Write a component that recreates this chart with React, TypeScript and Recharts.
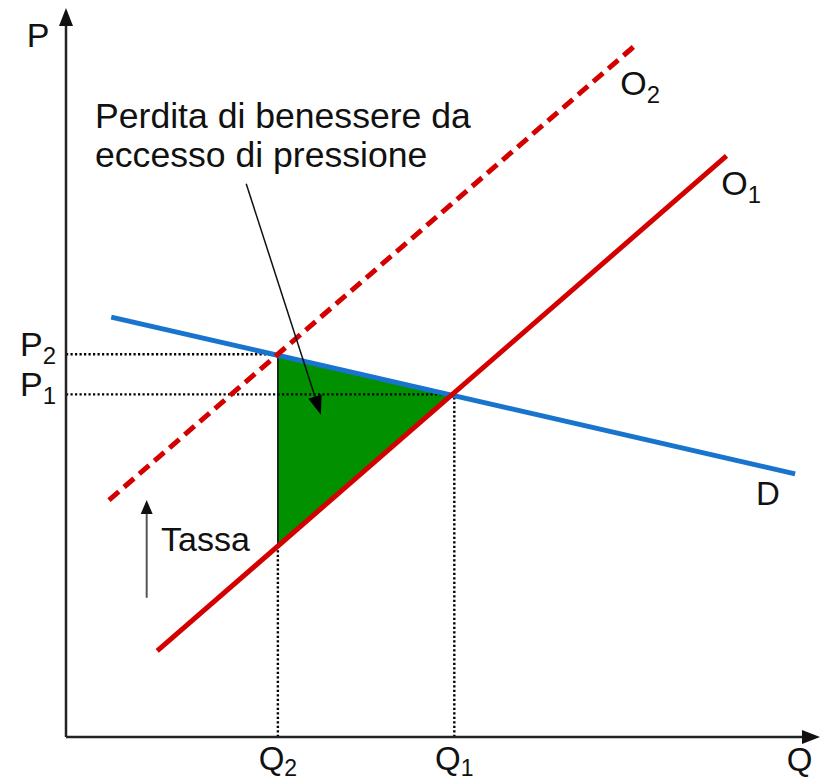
import React from "react";
import {
  ComposedChart,
  Line,
  Area,
  XAxis,
  YAxis,
  ReferenceLine,
  ReferenceDot,
} from "recharts";

// equilibrium quantities and prices (abstract units, axes run 0..100)
const quantityTicks = [28.1, 51.5];
const quantitySubs = ["2", "1"];
const priceTicks = [47.0, 52.5];
const priceSubs = ["1", "2"];

// curves
const demandD = [
  { q: 6.0, p: 57.6 },
  { q: 96.7, p: 36.1 },
];
const supplyO1 = [
  { q: 12.1, p: 11.8 },
  { q: 87.6, p: 79.7 },
];
const supplyO2 = [
  { q: 5.7, p: 32.5 },
  { q: 75.3, p: 94.7 },
];

// deadweight loss triangle: [low, high] at each quantity
const deadweightLoss = [
  { q: 28.1, band: [26.2, 52.5] },
  { q: 51.5, band: [47.0, 47.0] },
];

// guide lines to the axes
const guideP2 = [
  { q: 0, p: 52.5 },
  { q: 28.1, p: 52.5 },
];
const guideP1 = [
  { q: 0, p: 47.0 },
  { q: 51.5, p: 47.0 },
];
const guideQ2 = [
  { q: 28.1, p: 0 },
  { q: 28.1, p: 26.2 },
];
const edgeQ2 = [
  { q: 28.1, p: 26.2 },
  { q: 28.1, p: 52.5 },
];
const guideQ1 = [
  { q: 51.5, p: 0 },
  { q: 51.5, p: 47.0 },
];

const RED = "#d40000";
const BLUE = "#1874cd";
const GREEN = "#009000";
const FONT = "'Liberation Sans', Arial, sans-serif";

const W = 827;
const H = 781;

type ArrowOpts = { color: string; head: string; width: number; len: number; half: number };

const arrowShape = (o: ArrowOpts) => (props: any) => {
  const { x1, y1, x2, y2 } = props;
  const a = Math.atan2(y2 - y1, x2 - x1);
  const bx = x2 - Math.cos(a) * o.len;
  const by = y2 - Math.sin(a) * o.len;
  const nx = -Math.sin(a) * o.half;
  const ny = Math.cos(a) * o.half;
  return (
    <g>
      <line x1={x1} y1={y1} x2={bx} y2={by} stroke={o.color} strokeWidth={o.width} />
      <polygon
        points={`${x2},${y2} ${bx + nx},${by + ny} ${bx - nx},${by - ny}`}
        fill={o.head}
      />
    </g>
  );
};

const axisArrow = arrowShape({ color: "#222", head: "#111", width: 2.5, len: 18, half: 7 });
const taxArrow = arrowShape({ color: "#555", head: "#111", width: 2, len: 14, half: 6 });
const noteArrow = arrowShape({ color: "#111", head: "#000", width: 1.5, len: 19, half: 7 });

const label =
  (main: string, sub?: string, size = 34, anchor: "start" | "middle" | "end" = "start") =>
  (props: any) => (
    <text
      x={props.cx}
      y={props.cy}
      fontFamily={FONT}
      fontSize={size}
      fill="#111"
      textAnchor={anchor}
    >
      {main}
      {sub && (
        <tspan fontSize={size * 0.7} dy={8}>
          {sub}
        </tspan>
      )}
    </text>
  );

const noteText = (props: any) => (
  <text x={props.cx} y={props.cy} fontFamily={FONT} fontSize={35.6} fill="#111">
    <tspan x={props.cx}>Perdita di benessere da</tspan>
    <tspan x={props.cx} dy={39}>
      eccesso di pressione
    </tspan>
  </text>
);

const PriceTick = (props: any) => {
  const i = priceTicks.indexOf(props.payload.value);
  return (
    <text x={props.x - 10} y={props.y + 2} textAnchor="end" fontFamily={FONT} fontSize={34} fill="#111">
      P
      <tspan fontSize={24} dy={8}>
        {priceSubs[i]}
      </tspan>
    </text>
  );
};

const QuantityTick = (props: any) => {
  const i = quantityTicks.indexOf(props.payload.value);
  return (
    <text x={props.x} y={props.y + 33} textAnchor="middle" fontFamily={FONT} fontSize={33} fill="#111">
      Q
      <tspan fontSize={23} dy={6}>
        {quantitySubs[i]}
      </tspan>
    </text>
  );
};

const dotted = { stroke: "#000", strokeWidth: 2.4, strokeDasharray: "2.2 2.3" };

export default function App() {
  return (
    <div style={{ position: "absolute", left: 0, top: 0, width: W, height: H, background: "#fff" }}>
      <ComposedChart width={W} height={H} margin={{ top: 8, right: 7, left: 0, bottom: 0 }}>
        <XAxis
          type="number"
          dataKey="q"
          domain={[0, 100]}
          allowDataOverflow
          ticks={quantityTicks}
          tick={<QuantityTick />}
          tickLine={false}
          axisLine={false}
          tickSize={0}
          tickMargin={0}
          height={44}
          interval={0}
        />
        <YAxis
          type="number"
          domain={[0, 100]}
          allowDataOverflow
          ticks={priceTicks}
          tick={<PriceTick />}
          tickLine={false}
          axisLine={false}
          tickSize={0}
          tickMargin={0}
          width={66}
          interval={0}
        />

        <Area
          data={deadweightLoss}
          dataKey="band"
          type="linear"
          fill={GREEN}
          fillOpacity={1}
          stroke="none"
          isAnimationActive={false}
        />

        <Line data={guideP2} dataKey="p" dot={false} {...dotted} isAnimationActive={false} />
        <Line data={guideP1} dataKey="p" dot={false} {...dotted} isAnimationActive={false} />
        <Line data={guideQ2} dataKey="p" dot={false} {...dotted} isAnimationActive={false} />
        <Line data={guideQ1} dataKey="p" dot={false} {...dotted} isAnimationActive={false} />
        <Line data={edgeQ2} dataKey="p" dot={false} stroke="#111" strokeWidth={1.6} isAnimationActive={false} />

        <Line data={demandD} dataKey="p" dot={false} stroke={BLUE} strokeWidth={5} isAnimationActive={false} />
        <Line data={supplyO1} dataKey="p" dot={false} stroke={RED} strokeWidth={5} isAnimationActive={false} />
        <Line
          data={supplyO2}
          dataKey="p"
          dot={false}
          stroke={RED}
          strokeWidth={5}
          strokeDasharray="13 7"
          isAnimationActive={false}
        />

        {/* axes with arrow tips */}
        <ReferenceLine segment={[{ x: 0, y: 0 }, { x: 0, y: 100 }]} shape={axisArrow} ifOverflow="visible" />
        <ReferenceLine segment={[{ x: 0, y: 0 }, { x: 100, y: 0 }]} shape={axisArrow} ifOverflow="visible" />

        {/* tax shift arrow and callout arrow */}
        <ReferenceLine segment={[{ x: 10.7, y: 19.1 }, { x: 10.7, y: 32.5 }]} shape={taxArrow} ifOverflow="visible" />
        <ReferenceLine segment={[{ x: 23.9, y: 75.9 }, { x: 33.8, y: 44.2 }]} shape={noteArrow} ifOverflow="visible" />

        {/* text labels */}
        <ReferenceDot x={-5.2} y={94.7} shape={label("P")} ifOverflow="visible" />
        <ReferenceDot x={95.6} y={-4.7} shape={label("Q", undefined, 33)} ifOverflow="visible" />
        <ReferenceDot x={73.5} y={88.1} shape={label("O", "2")} ifOverflow="visible" />
        <ReferenceDot x={86.9} y={74.3} shape={label("O", "1")} ifOverflow="visible" />
        <ReferenceDot x={91.5} y={31.8} shape={label("D", undefined, 33)} ifOverflow="visible" />
        <ReferenceDot x={12.6} y={25.5} shape={label("Tassa")} ifOverflow="visible" />
        <ReferenceDot x={3.85} y={83.5} shape={noteText} ifOverflow="visible" />
      </ComposedChart>
    </div>
  );
}
